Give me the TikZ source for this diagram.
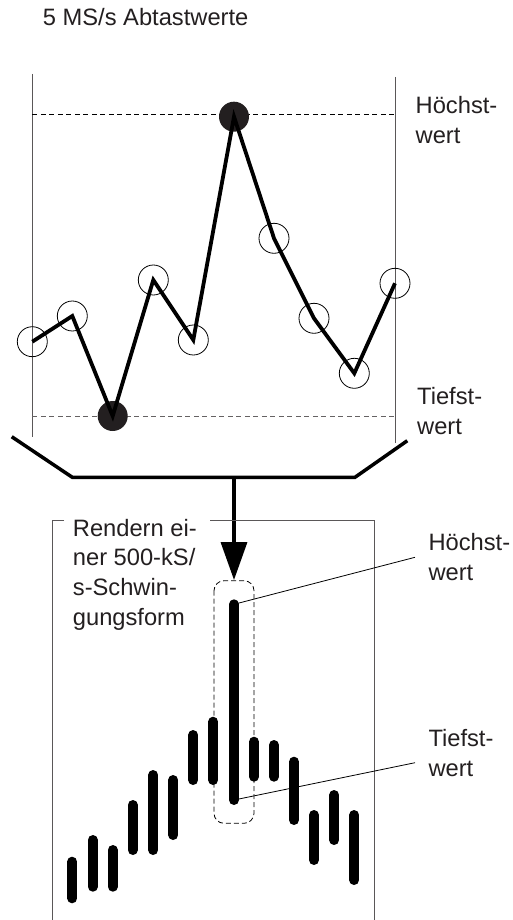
\documentclass[tikz,border=0pt]{standalone}
\usepackage{fontspec}
\setmainfont{Liberation Sans}
\usetikzlibrary{arrows.meta}
\definecolor{ink}{HTML}{231F20}
\begin{document}
\begin{tikzpicture}[x=1pt,y=-1pt,
  lbl/.style={inner sep=0pt,anchor=base west,align=left,text=ink,font=\fontsize{23.7}{29.8}\selectfont},
  thinline/.style={line width=0.9pt,draw=ink!75},
  dashline/.style={line width=0.9pt,dash pattern=on 5pt off 3.5pt},
  samp/.style={circle,draw=black,line width=0.8pt,minimum size=30pt,inner sep=0pt},
  peak/.style={circle,fill=ink,minimum size=30pt,inner sep=0pt},
  wave/.style={line width=3.8pt,line join=miter,line cap=butt},
  bar/.style={line width=10pt,line cap=round},
  leader/.style={line width=0.8pt}]
\useasboundingbox (0,0) rectangle (513,920);
% title
\node[lbl] (title) at (42.7,26) {5 MS/s Abtastwerte};
% frame lines
\draw[thinline] (32.3,74) -- (32.3,437);
\draw[thinline] (395,77) -- (395,442.7);
\draw[dashline,draw=black] (32.3,114) -- (395,114);
\draw[dashline,draw=ink!70] (32.3,416.7) -- (395,416.7);
% sample points
\coordinate (p1) at (32.3,341.7);
\coordinate (p2) at (72.3,316);
\coordinate (p3) at (112.7,416);
\coordinate (p4) at (153.3,280);
\coordinate (p5) at (193.3,340);
\coordinate (p6) at (234,116.7);
\coordinate (p7) at (274,238.3);
\coordinate (p8) at (314,318.3);
\coordinate (p9) at (354.3,373.3);
\coordinate (p10) at (395,283.3);
\node[peak] (mx) at (p6) {};
\node[peak] (mn) at (p3) {};
\foreach \i in {1,2,4,5,7,8,9,10} {\node[samp] (c\i) at (p\i) {};}
\draw[wave] (p1) -- (p2) -- (p3) -- (p4) -- (p5) -- (p6) -- (p7) -- (p8) -- (p9) -- (p10);
% labels top (anchor = baseline of last line)
\node[lbl] (hoch1) at (415.5,143.3) {Höchst-\\wert};
\node[lbl] (tief1) at (417,434) {Tiefst-\\wert};
% funnel
\coordinate (fl) at (11.7,436.7);
\coordinate (fa) at (72.3,477.3);
\coordinate (fb) at (355,477.3);
\coordinate (fr) at (407.3,440.7);
\coordinate (fm) at (234,477.3);
\draw[line width=3.5pt,line join=miter] (fl) -- (fa) -- (fb) -- (fr);
% arrow
\coordinate (tip) at (234,580);
\draw[line width=3.5pt,-{Triangle[width=26pt,length=38pt]}] (fm) -- (tip);
% lower frame
\draw[thinline] (64,520.7) -- (52.3,520.7) -- (52.3,921);
\draw[thinline] (210,520.7) -- (374.3,520.7) -- (374.3,921);
\node[lbl] (render) at (72.7,625.5) {Rendern ei-\\ner 500-kS/\\s-Schwin-\\gungsform};
% dashed rounded box
\draw[line width=0.8pt,dash pattern=on 5pt off 3pt,rounded corners=10pt] (214,580.7) rectangle (254,823.3);
% bars
\foreach \x/\a/\b in {72.3/856.7/903.3, 92.7/835/891.7, 112.7/845/891.7, 132.7/800/855, 153.3/770/855, 173.3/775/840, 193.3/730/785, 213.3/716.7/785, 254/736.7/781.7, 274/740/781.7, 294/756.7/825, 314/810/865, 334.3/790/845, 354.3/810/885}
  {\draw[bar] (\x,\a+5) -- (\x,\b-5);}
\coordinate (btop) at (234,604.3);
\coordinate (bbot) at (234,800);
\draw[bar] (btop) -- (bbot);
% leaders
\coordinate (lh) at (415,557.3);
\coordinate (lt) at (415,762.7);
\draw[leader] (btop) -- (lh);
\draw[leader] (bbot) -- (lt);
\node[lbl] (hoch2) at (428.3,580.5) {Höchst-\\wert};
\node[lbl] (tief2) at (428.3,776.7) {Tiefst-\\wert};
\end{tikzpicture}
\end{document}
